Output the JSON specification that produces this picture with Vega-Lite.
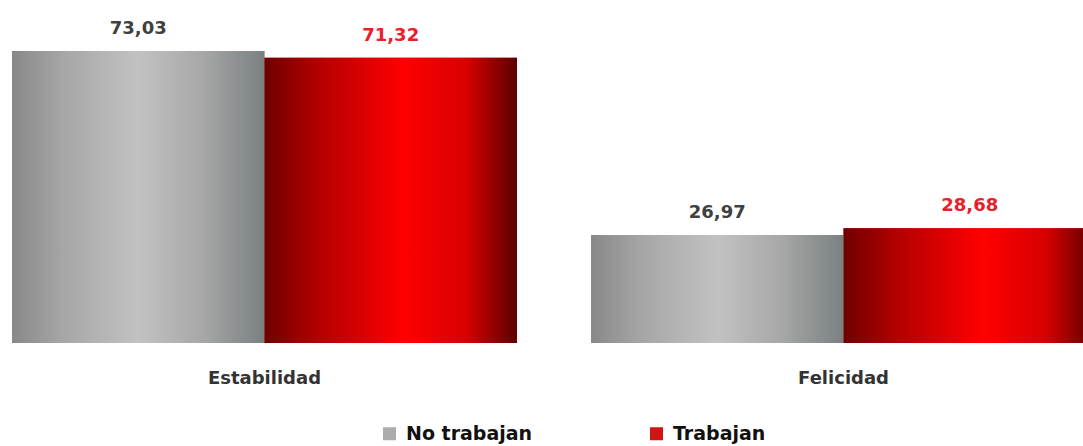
{
  "$schema": "https://vega.github.io/schema/vega-lite/v6.json",
  "width": 1083,
  "height": 343,
  "autosize": {"type": "none"},
  "padding": {"left": 0, "top": 0, "right": 0, "bottom": 103},
  "background": "white",
  "config": {
    "view": {"stroke": null},
    "locale": {"number": {"decimal": ",", "thousands": ".", "grouping": [3], "currency": ["", "€"]}}
  },
  "data": {
    "values": [
      {"categoria": "Estabilidad", "grupo": "No trabajan", "valor": 73.03},
      {"categoria": "Estabilidad", "grupo": "Trabajan", "valor": 71.32},
      {"categoria": "Felicidad", "grupo": "No trabajan", "valor": 26.97},
      {"categoria": "Felicidad", "grupo": "Trabajan", "valor": 28.68}
    ]
  },
  "encoding": {
    "x": {
      "field": "categoria",
      "type": "nominal",
      "sort": ["Estabilidad", "Felicidad"],
      "scale": {"range": [12, 1096], "paddingInner": 0.128, "paddingOuter": 0},
      "axis": {
        "title": null,
        "labelAngle": 0,
        "domain": false,
        "ticks": false,
        "labelFont": "DejaVu Sans",
        "labelFontWeight": "bold",
        "labelFontSize": 18,
        "labelColor": "#333333",
        "labelPadding": 26
      }
    },
    "xOffset": {
      "field": "grupo",
      "type": "nominal",
      "sort": ["No trabajan", "Trabajan"],
      "scale": {"domain": ["No trabajan", "Trabajan"], "paddingInner": 0, "paddingOuter": 0}
    },
    "y": {
      "field": "valor",
      "type": "quantitative",
      "scale": {"domain": [0, 85.75], "nice": false},
      "axis": null
    }
  },
  "layer": [
    {
      "mark": {"type": "bar"},
      "encoding": {
        "color": {
          "field": "grupo",
          "type": "nominal",
          "scale": {"domain": ["No trabajan", "Trabajan"], "range": ["#acacac", "#d01515"]},
          "legend": {
            "title": null,
            "orient": "none",
            "legendX": 380,
            "legendY": 424,
            "direction": "horizontal",
            "columns": 2,
            "columnPadding": 114,
            "symbolType": "square",
            "symbolSize": 169,
            "symbolStrokeWidth": 0,
            "symbolOpacity": 1,
            "labelFont": "DejaVu Sans",
            "labelFontWeight": "bold",
            "labelFontSize": 19,
            "labelColor": "#111111",
            "labelOffset": 7
          }
        }
      }
    },
    {
      "transform": [{"filter": "datum.grupo === 'No trabajan'"}],
      "mark": {
        "type": "bar",
        "fill": {"gradient": "linear", "x1": 0, "y1": 0, "x2": 1, "y2": 0, "stops": [
          {"offset": 0, "color": "#888888"},
          {"offset": 0.2, "color": "#a6a6a6"},
          {"offset": 0.5, "color": "#c2c2c2"},
          {"offset": 0.75, "color": "#a8a8a8"},
          {"offset": 1, "color": "#7a8080"}
        ]}
      },
      "encoding": {}
    },
    {
      "transform": [{"filter": "datum.grupo === 'Trabajan'"}],
      "mark": {
        "type": "bar",
        "fill": {"gradient": "linear", "x1": 0, "y1": 0, "x2": 1, "y2": 0, "stops": [
          {"offset": 0, "color": "#6e0000"},
          {"offset": 0.2, "color": "#b00000"},
          {"offset": 0.55, "color": "#ff0000"},
          {"offset": 0.8, "color": "#d80000"},
          {"offset": 1, "color": "#5a0000"}
        ]}
      },
      "encoding": {}
    },
    {
      "mark": {"type": "text", "dy": -22, "font": "DejaVu Sans", "fontWeight": "bold", "fontSize": 18},
      "encoding": {
        "text": {"field": "valor", "type": "quantitative", "format": ".2f"},
        "color": {
          "condition": {"test": "datum.grupo === 'Trabajan'", "value": "#e8202a"},
          "value": "#404040"
        }
      }
    }
  ]
}
